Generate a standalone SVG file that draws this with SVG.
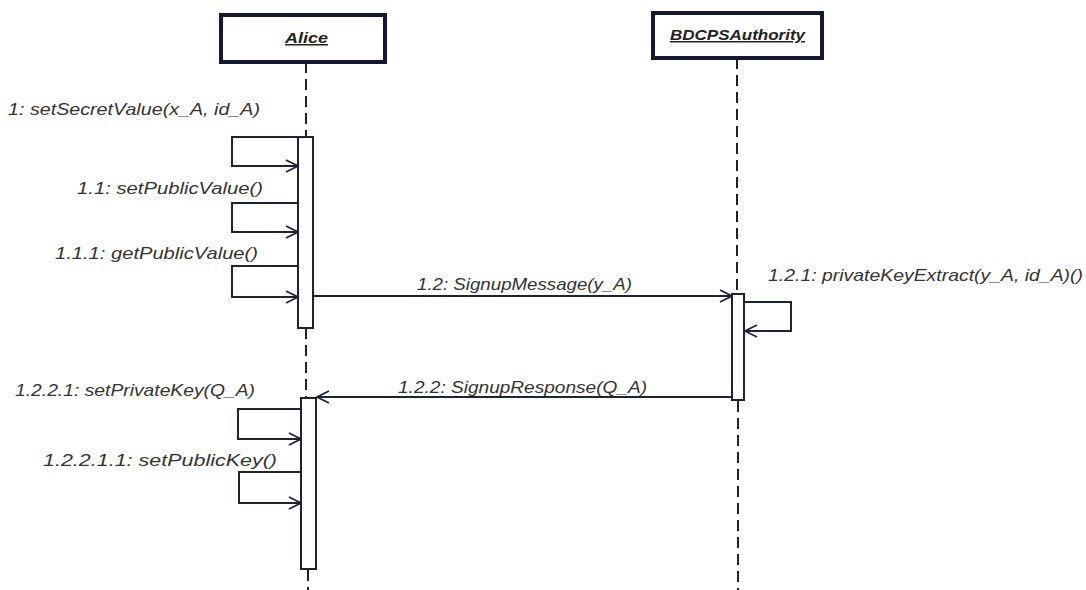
<svg xmlns="http://www.w3.org/2000/svg" width="1086" height="590" viewBox="0 0 1086 590">
<style>
.box{fill:#fff;stroke:#111a2e;stroke-width:4}
.act{fill:#fff;stroke:#1a2338;stroke-width:2}
.life{stroke:#222;stroke-width:2;stroke-dasharray:11 6;fill:none}
.msg{stroke:#1a2338;stroke-width:2;fill:none}
.lbl{font-family:"Liberation Sans",Arial,sans-serif;font-size:17px;fill:#333;font-style:italic}
.name{font-family:"Liberation Sans",Arial,sans-serif;font-size:15px;fill:#222;font-style:italic;text-decoration:underline;font-weight:bold}
</style>
<defs>
<marker id="open" markerWidth="14" markerHeight="14" refX="13" refY="7" orient="auto" markerUnits="userSpaceOnUse">
<path d="M1,1 L13,7 L1,13" fill="none" stroke="#1a2338" stroke-width="1.8"/>
</marker>
</defs>
<rect width="1086" height="590" fill="#fff"/>
<g id="lifelines">
<line class="life" x1="306" y1="62" x2="306" y2="137"/>
<line class="life" x1="306" y1="328" x2="306" y2="398"/>
<line class="life" x1="308" y1="570" x2="308" y2="590"/>
<line class="life" x1="737" y1="58" x2="737" y2="293"/>
<line class="life" x1="738" y1="401" x2="738" y2="590"/>
</g>
<g id="Alice">
<rect class="box" x="221" y="15" width="164" height="47"/>
<text class="name" x="285" y="43" textLength="43" lengthAdjust="spacingAndGlyphs">Alice</text>
</g>
<g id="BDCPSAuthority">
<rect class="box" x="653" y="13" width="169" height="45"/>
<text class="name" x="670" y="40" textLength="135" lengthAdjust="spacingAndGlyphs">BDCPSAuthority</text>
</g>
<g id="activations">
<rect class="act" x="298" y="137" width="15" height="191"/>
<rect class="act" x="732" y="294" width="12" height="106"/>
<rect class="act" x="301" y="398" width="15" height="171"/>
</g>
<g id="connectors">
<polyline class="msg" points="298,137 232,137 232,166 298,166" marker-end="url(#open)"/>
<polyline class="msg" points="298,203 232,203 232,232 298,232" marker-end="url(#open)"/>
<polyline class="msg" points="298,266 232,266 232,297 298,297" marker-end="url(#open)"/>
<line class="msg" x1="313" y1="296" x2="732" y2="296" marker-end="url(#open)"/>
<polyline class="msg" points="744,302 791,302 791,331 745,331" marker-end="url(#open)"/>
<line class="msg" x1="732" y1="397" x2="317" y2="397" marker-end="url(#open)"/>
<polyline class="msg" points="301,409 238,409 238,439 301,439" marker-end="url(#open)"/>
<polyline class="msg" points="301,472 239,472 239,503 301,503" marker-end="url(#open)"/>
</g>
<g id="labels">
<text class="lbl" x="8" y="115" textLength="252" lengthAdjust="spacingAndGlyphs">1: setSecretValue(x_A, id_A)</text>
<text class="lbl" x="77" y="194" textLength="186" lengthAdjust="spacingAndGlyphs">1.1: setPublicValue()</text>
<text class="lbl" x="55" y="259" textLength="203" lengthAdjust="spacingAndGlyphs">1.1.1: getPublicValue()</text>
<text class="lbl" x="417" y="290" textLength="215" lengthAdjust="spacingAndGlyphs">1.2: SignupMessage(y_A)</text>
<text class="lbl" x="768" y="281" textLength="315" lengthAdjust="spacingAndGlyphs">1.2.1: privateKeyExtract(y_A, id_A)()</text>
<text class="lbl" x="398" y="393" textLength="249" lengthAdjust="spacingAndGlyphs">1.2.2: SignupResponse(Q_A)</text>
<text class="lbl" x="15" y="396" textLength="240" lengthAdjust="spacingAndGlyphs">1.2.2.1: setPrivateKey(Q_A)</text>
<text class="lbl" x="43" y="466" textLength="234" lengthAdjust="spacingAndGlyphs">1.2.2.1.1: setPublicKey()</text>
</g>
</svg>
